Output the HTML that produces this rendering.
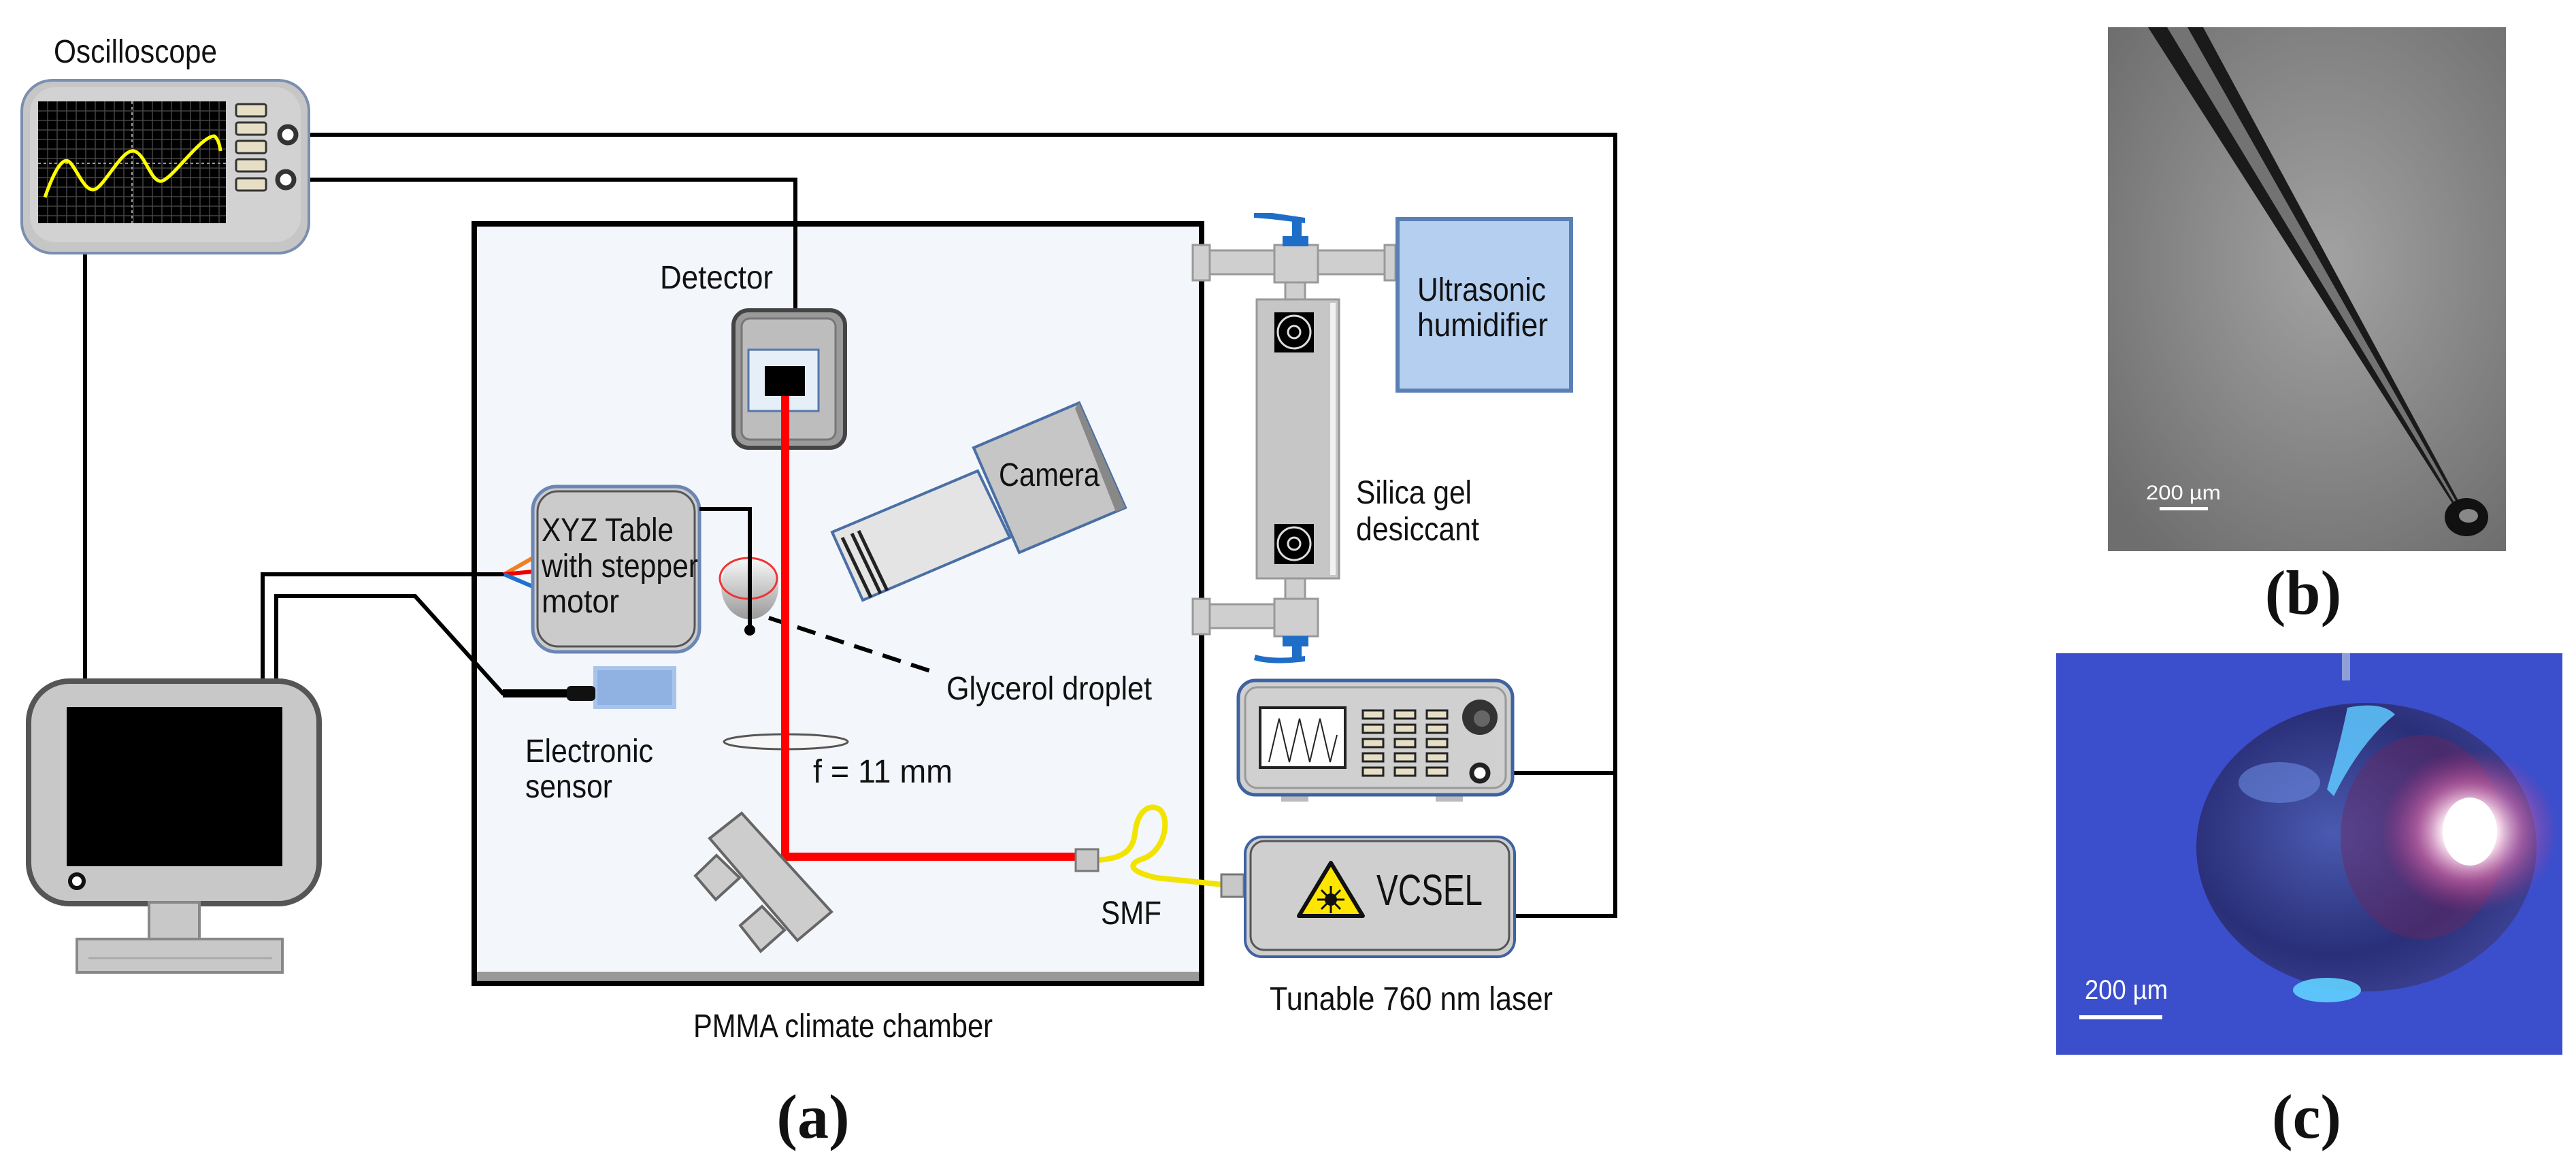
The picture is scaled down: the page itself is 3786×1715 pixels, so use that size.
<!DOCTYPE html>
<html><head><meta charset="utf-8"><style>
html,body{margin:0;padding:0;background:#fff;}
svg{display:block;}
text{font-family:"Liberation Sans",sans-serif;fill:#111;}
.lb{font-size:48px;}
.cap{font-family:"Liberation Serif",serif;font-weight:bold;font-size:92px;}
</style></head><body>
<svg width="3786" height="1715" viewBox="0 0 3786 1715" xmlns="http://www.w3.org/2000/svg">
<defs>
<radialGradient id="gb" cx="0.55" cy="0.45" r="0.7"><stop offset="0" stop-color="#a2a2a2"/><stop offset="1" stop-color="#6e6e6e"/></radialGradient>
<radialGradient id="spot" cx="0.5" cy="0.5" r="0.5"><stop offset="0" stop-color="#fff"/><stop offset="0.3" stop-color="#fff0f8"/><stop offset="0.6" stop-color="#e070b0" stop-opacity="0.6"/><stop offset="1" stop-color="#c03080" stop-opacity="0"/></radialGradient>
<radialGradient id="drop" cx="0.4" cy="0.45" r="0.6"><stop offset="0" stop-color="#4a5ab0"/><stop offset="0.7" stop-color="#2a2f78"/><stop offset="1" stop-color="#3a3f90"/></radialGradient>
<linearGradient id="dg" x1="0" y1="0" x2="0" y2="1"><stop offset="0" stop-color="#fff"/><stop offset="1" stop-color="#999"/></linearGradient>
</defs>

<rect x="697" y="329" width="1069" height="1116" fill="#f3f6fa" stroke="#000" stroke-width="8"/>
<rect x="701" y="1428" width="1061" height="12" fill="#999"/>

<g fill="none" stroke="#000" stroke-width="6">
<path d="M435 198 H2374 V1346 H2226"/>
<path d="M432 264 H1169 V456"/>
<path d="M2186 1136 H2374"/>
<path d="M125 372 V1001"/>
<path d="M386 1001 V844 H741"/>
<path d="M406 1001 V876 H610 L739 1019 H835" />
<path d="M1028 748 H1102 V924"/>
</g>
<path d="M739 1019 H835" stroke="#000" stroke-width="12"/>
<path d="M741 844 L783 820" stroke="#f08020" stroke-width="6"/>
<path d="M741 844 L783 840" stroke="#e00" stroke-width="6"/>
<path d="M741 844 L783 862" stroke="#2070d0" stroke-width="6"/>

<text class="lb" x="79" y="92" textLength="240" lengthAdjust="spacingAndGlyphs" font-size="44">Oscilloscope</text>
<rect x="32" y="118" width="422" height="254" rx="45" fill="#c6c6c6" stroke="#7a8fb0" stroke-width="4"/>
<rect x="44" y="128" width="398" height="228" rx="38" fill="#d2d2d2"/>
<rect x="56" y="149" width="276" height="179" fill="#000"/>
<g stroke="#444" stroke-width="1.5">
<path d="M70 149V328M84 149V328M98 149V328M112 149V328M126 149V328M140 149V328M154 149V328M168 149V328M182 149V328M196 149V328M210 149V328M224 149V328M238 149V328M252 149V328M266 149V328M280 149V328M294 149V328M308 149V328M322 149V328"/>
<path d="M56 163H332M56 177H332M56 191H332M56 205H332M56 219H332M56 233H332M56 247H332M56 261H332M56 275H332M56 289H332M56 303H332M56 317H332"/>
</g>
<path d="M194 149V328M56 240H332" stroke="#999" stroke-width="2" stroke-dasharray="4 4"/>
<path d="M66 290 C80 250, 92 230, 102 238 S125 285, 140 278 S180 218, 197 222 S222 270, 238 266 S295 200, 315 200 Q322 205, 324 222" fill="none" stroke="#ff0" stroke-width="5"/>
<g fill="#e6dfc6" stroke="#333" stroke-width="3">
<rect x="347" y="153" width="44" height="18" rx="3"/><rect x="347" y="180" width="44" height="18" rx="3"/><rect x="347" y="207" width="44" height="18" rx="3"/><rect x="347" y="234" width="44" height="18" rx="3"/><rect x="347" y="262" width="44" height="18" rx="3"/>
</g>
<circle cx="423" cy="198" r="12" fill="#fff" stroke="#333" stroke-width="7"/>
<circle cx="420" cy="264" r="12" fill="#fff" stroke="#333" stroke-width="7"/>

<rect x="42" y="1001" width="427" height="327" rx="60" fill="#c8c8c8" stroke="#555" stroke-width="8"/>
<rect x="98" y="1039" width="317" height="234" fill="#000"/>
<circle cx="113" cy="1295" r="10" fill="#fff" stroke="#111" stroke-width="6"/>
<rect x="219" y="1326" width="74" height="54" fill="#c8c8c8" stroke="#888" stroke-width="4"/>
<rect x="113" y="1380" width="302" height="49" fill="#c8c8c8" stroke="#888" stroke-width="4"/>
<line x1="130" y1="1408" x2="400" y2="1408" stroke="#aaa" stroke-width="3"/>

<text class="lb" x="970" y="424" textLength="166" lengthAdjust="spacingAndGlyphs">Detector</text>
<rect x="1078" y="456" width="164" height="202" rx="22" fill="#9a9a9a" stroke="#444" stroke-width="6"/>
<rect x="1090" y="468" width="138" height="178" rx="12" fill="#bdbdbd" stroke="#777" stroke-width="3"/>
<rect x="1100" y="514" width="103" height="90" fill="#e6eef8" stroke="#5577aa" stroke-width="3"/>
<rect x="1124" y="538" width="59" height="44" fill="#000"/>

<rect x="783" y="715" width="245" height="243" rx="35" fill="#cbcbcb" stroke="#6a86b5" stroke-width="5"/>
<rect x="790" y="722" width="231" height="228" rx="30" fill="none" stroke="#555" stroke-width="3"/>
<text class="lb" x="796" y="795" textLength="194" lengthAdjust="spacingAndGlyphs">XYZ Table</text>
<text class="lb" x="796" y="848" textLength="230" lengthAdjust="spacingAndGlyphs">with stepper</text>
<text class="lb" x="796" y="900" textLength="114" lengthAdjust="spacingAndGlyphs">motor</text>

<ellipse cx="1102" cy="862" rx="42" ry="48" fill="url(#dg)"/>
<ellipse cx="1100" cy="850" rx="42" ry="30" fill="none" stroke="#e33" stroke-width="3"/>
<path d="M1028 748 H1102 V924" fill="none" stroke="#000" stroke-width="6"/>
<circle cx="1102" cy="926" r="8" fill="#000"/>
<path d="M1130 908 L1367 986" stroke="#000" stroke-width="6" stroke-dasharray="28 16"/>

<rect x="875" y="982" width="116" height="57" fill="#8fb2e2" stroke="#a8c4ec" stroke-width="6"/>
<rect x="833" y="1008" width="42" height="22" rx="6" fill="#111"/>
<text class="lb" x="772" y="1120" textLength="188" lengthAdjust="spacingAndGlyphs">Electronic</text>
<text class="lb" x="772" y="1172" textLength="128" lengthAdjust="spacingAndGlyphs">sensor</text>

<polygon points="1223,782 1437,692 1484,790 1268,882" fill="#e4e4e4" stroke="#4a6fa5" stroke-width="4"/>
<g stroke="#222" stroke-width="5"><line x1="1238" y1="790" x2="1280" y2="878"/><line x1="1252" y1="784" x2="1294" y2="872"/><line x1="1262" y1="780" x2="1304" y2="868"/></g>
<polygon points="1431,658 1586,592 1654,746 1498,812" fill="#c6c6c6" stroke="#4a6fa5" stroke-width="4"/>
<polygon points="1586,592 1654,746 1640,752 1580,600" fill="#888"/>
<text class="lb" x="1468" y="714" textLength="148" lengthAdjust="spacingAndGlyphs">Camera</text>

<text class="lb" x="1391" y="1028" textLength="302" lengthAdjust="spacingAndGlyphs">Glycerol droplet</text>

<ellipse cx="1155" cy="1090" rx="91" ry="11" fill="#f6f6f6" stroke="#555" stroke-width="3"/>
<text class="lb" x="1195" y="1150" textLength="205" lengthAdjust="spacingAndGlyphs">f = 11 mm</text>

<path d="M1154 582 V1259 H1584" fill="none" stroke="#f00" stroke-width="12"/>

<g fill="#cdcdcd" stroke="#666" stroke-width="4">
<polygon points="1022,1287 1053,1257 1087,1290 1052,1322"/>
<polygon points="1088,1360 1120,1332 1153,1367 1118,1398"/>
<polygon points="1043,1232 1090,1195 1222,1340 1172,1382"/>
</g>

<path d="M1612 1264 C1650 1262, 1665 1250, 1668 1225 C1672 1190, 1690 1180, 1705 1190 C1720 1205, 1712 1250, 1680 1262 C1660 1268, 1655 1280, 1700 1290 L1797 1300" fill="none" stroke="#f2e400" stroke-width="8"/>
<rect x="1581" y="1248" width="33" height="32" fill="#c8c8c8" stroke="#777" stroke-width="3"/>
<rect x="1795" y="1285" width="33" height="33" fill="#c8c8c8" stroke="#777" stroke-width="3"/>
<text class="lb" x="1618" y="1358" textLength="89" lengthAdjust="spacingAndGlyphs">SMF</text>

<text class="lb" x="1019" y="1524" textLength="440" lengthAdjust="spacingAndGlyphs">PMMA climate chamber</text>

<g fill="#cfcfcf" stroke="#999" stroke-width="3">
<rect x="1770" y="368" width="280" height="35"/>
<rect x="1753" y="360" width="25" height="52"/>
<rect x="2035" y="360" width="16" height="52"/>
<rect x="1889" y="413" width="29" height="32"/>
<rect x="1847" y="440" width="121" height="410" fill="#c6c6c6" stroke="#999"/>
<rect x="1889" y="850" width="29" height="32"/>
<rect x="1770" y="888" width="140" height="35"/>
<rect x="1753" y="880" width="25" height="52"/>
<rect x="1873" y="360" width="64" height="55"/>
<rect x="1873" y="880" width="64" height="55"/>
</g>
<rect x="1955" y="445" width="8" height="400" fill="#f2f2f2"/>
<g fill="#1e6ec8">
<rect x="1885" y="347" width="38" height="15"/><rect x="1899" y="325" width="14" height="24"/><path d="M1843 313 L1870 313 L1918 320 L1918 328 L1868 322 L1843 320Z"/>
<rect x="1885" y="935" width="38" height="15"/><rect x="1899" y="948" width="14" height="20"/><path d="M1845 962 Q1870 970 1918 964 L1918 972 Q1868 978 1843 970Z"/>
</g>
<g>
<rect x="1873" y="459" width="58" height="59" fill="#000"/>
<circle cx="1902" cy="488" r="24" fill="none" stroke="#ddd" stroke-width="3"/><circle cx="1902" cy="488" r="9" fill="none" stroke="#ddd" stroke-width="3"/>
<rect x="1873" y="770" width="58" height="59" fill="#000"/>
<circle cx="1902" cy="799" r="24" fill="none" stroke="#ddd" stroke-width="3"/><circle cx="1902" cy="799" r="9" fill="none" stroke="#ddd" stroke-width="3"/>
</g>
<text class="lb" x="1993" y="740" textLength="170" lengthAdjust="spacingAndGlyphs">Silica gel</text>
<text class="lb" x="1993" y="794" textLength="181" lengthAdjust="spacingAndGlyphs">desiccant</text>

<rect x="2054" y="322" width="255" height="252" fill="#b4cff0" stroke="#5a7fb5" stroke-width="6"/>
<text class="lb" x="2083" y="442" textLength="189" lengthAdjust="spacingAndGlyphs">Ultrasonic</text>
<text class="lb" x="2083" y="494" textLength="192" lengthAdjust="spacingAndGlyphs">humidifier</text>

<rect x="1883" y="1162" width="40" height="16" fill="#bbb"/><rect x="2110" y="1162" width="40" height="16" fill="#bbb"/>
<rect x="1820" y="1000" width="403" height="168" rx="25" fill="#d0d0d0" stroke="#3f62a0" stroke-width="5"/>
<rect x="1830" y="1010" width="383" height="148" rx="18" fill="none" stroke="#999" stroke-width="3"/>
<rect x="1852" y="1040" width="125" height="88" fill="#fff" stroke="#222" stroke-width="4"/>
<path d="M1865 1120 L1880 1056 L1895 1120 L1910 1056 L1925 1120 L1940 1056 L1955 1120 L1965 1080" fill="none" stroke="#222" stroke-width="2"/>
<g fill="#e6dfc6" stroke="#222" stroke-width="3">
<rect x="2003" y="1044" width="30" height="12"/><rect x="2050" y="1044" width="30" height="12"/><rect x="2097" y="1044" width="30" height="12"/>
<rect x="2003" y="1065" width="30" height="12"/><rect x="2050" y="1065" width="30" height="12"/><rect x="2097" y="1065" width="30" height="12"/>
<rect x="2003" y="1086" width="30" height="12"/><rect x="2050" y="1086" width="30" height="12"/><rect x="2097" y="1086" width="30" height="12"/>
<rect x="2003" y="1107" width="30" height="12"/><rect x="2050" y="1107" width="30" height="12"/><rect x="2097" y="1107" width="30" height="12"/>
<rect x="2003" y="1128" width="30" height="12"/><rect x="2050" y="1128" width="30" height="12"/><rect x="2097" y="1128" width="30" height="12"/>
</g>
<circle cx="2175" cy="1054" r="26" fill="#333"/><circle cx="2178" cy="1056" r="12" fill="#666"/>
<circle cx="2175" cy="1136" r="12" fill="#fff" stroke="#222" stroke-width="7"/>

<rect x="1830" y="1230" width="396" height="176" rx="25" fill="#cfcfcf" stroke="#3f62a0" stroke-width="4"/>
<rect x="1838" y="1236" width="380" height="160" rx="20" fill="none" stroke="#555" stroke-width="3"/>
<polygon points="1956,1268 1909,1346 2003,1346" fill="#ffe600" stroke="#111" stroke-width="6" stroke-linejoin="round"/>
<circle cx="1956" cy="1322" r="9" fill="#111"/>
<g stroke="#111" stroke-width="3"><line x1="1956" y1="1302" x2="1956" y2="1342"/><line x1="1936" y1="1322" x2="1976" y2="1322"/><line x1="1942" y1="1308" x2="1970" y2="1336"/><line x1="1970" y1="1308" x2="1942" y2="1336"/></g>
<text x="2023" y="1330" font-size="64" textLength="156" lengthAdjust="spacingAndGlyphs">VCSEL</text>
<text class="lb" x="1866" y="1484" textLength="416" lengthAdjust="spacingAndGlyphs">Tunable 760 nm laser</text>

<text class="cap" x="1195" y="1672" text-anchor="middle">(a)</text>

<rect x="3098" y="40" width="585" height="770" fill="url(#gb)"/>
<polygon points="3157,40 3238,40 3622,752 3612,752" fill="#1a1a1a"/>
<polygon points="3185,40 3215,40 3617,750 3614,750" fill="#9a9a9a" opacity="0.7"/>
<ellipse cx="3625" cy="760" rx="32" ry="28" fill="#111"/>
<ellipse cx="3628" cy="758" rx="14" ry="10" fill="#888"/>
<text x="3154" y="734" font-size="30" style="fill:#fff" textLength="110" lengthAdjust="spacingAndGlyphs">200 µm</text>
<rect x="3174" y="745" width="71" height="5" fill="#fff"/>
<text class="cap" x="3385" y="902" text-anchor="middle">(b)</text>

<rect x="3022" y="960" width="744" height="590" fill="#3b4fcc"/>
<ellipse cx="3478" cy="1245" rx="250" ry="212" fill="url(#drop)"/>
<path d="M3450 1040 Q3500 1030 3520 1050 Q3470 1090 3430 1170 L3420 1160 Q3440 1090 3450 1040Z" fill="#5fc8ff" opacity="0.85"/>
<ellipse cx="3420" cy="1455" rx="50" ry="18" fill="#60d0ff" opacity="0.9"/>
<ellipse cx="3350" cy="1150" rx="60" ry="30" fill="#6a8ae0" opacity="0.6"/>
<ellipse cx="3560" cy="1230" rx="120" ry="150" fill="#6a2860" opacity="0.45"/>
<ellipse cx="3630" cy="1222" rx="130" ry="120" fill="url(#spot)"/>
<ellipse cx="3630" cy="1222" rx="40" ry="50" fill="#fff"/>
<rect x="3442" y="960" width="12" height="40" fill="#8fa0d8"/>
<text x="3064" y="1468" font-size="40" style="fill:#fff" textLength="122" lengthAdjust="spacingAndGlyphs">200 µm</text>
<rect x="3056" y="1492" width="122" height="6" fill="#fff"/>
<text class="cap" x="3390" y="1672" text-anchor="middle">(c)</text>
</svg>
</body></html>
